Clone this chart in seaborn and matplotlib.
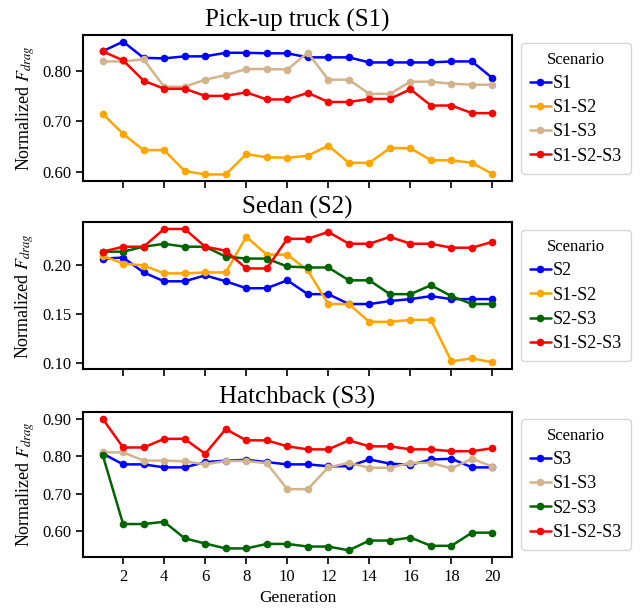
import numpy as np
import pandas as pd
import matplotlib
matplotlib.use("Agg")
import matplotlib.pyplot as plt
import seaborn as sns

# %%
### Values (normalized drag per generation)
generations = list(range(1, 21))

# Pick-up truck (S1)
truck_s1 = [0.838, 0.857, 0.825, 0.824, 0.828, 0.828, 0.835, 0.835, 0.834, 0.834,
            0.826, 0.826, 0.826, 0.816, 0.816, 0.816, 0.816, 0.818, 0.818, 0.785]
truck_s1_s2 = [0.715, 0.675, 0.643, 0.643, 0.602, 0.595, 0.595, 0.635, 0.629, 0.628,
               0.632, 0.652, 0.618, 0.618, 0.647, 0.647, 0.623, 0.623, 0.618, 0.596]
truck_s1_s3 = [0.818, 0.818, 0.822, 0.768, 0.768, 0.782, 0.791, 0.803, 0.803, 0.802,
               0.835, 0.782, 0.782, 0.754, 0.754, 0.778, 0.778, 0.774, 0.772, 0.772]
truck_s1_s2_s3 = [0.838, 0.820, 0.780, 0.764, 0.764, 0.750, 0.750, 0.757, 0.743, 0.743,
                  0.756, 0.738, 0.738, 0.744, 0.744, 0.763, 0.731, 0.731, 0.716, 0.716]

# Sedan (S2)
sedan_s2 = [0.206, 0.207, 0.192, 0.183, 0.183, 0.189, 0.183, 0.176, 0.176, 0.184,
            0.170, 0.170, 0.160, 0.160, 0.163, 0.165, 0.168, 0.165, 0.165, 0.165]
sedan_s1_s2 = [0.209, 0.201, 0.199, 0.191, 0.191, 0.192, 0.192, 0.228, 0.210, 0.210,
               0.194, 0.160, 0.160, 0.142, 0.142, 0.144, 0.144, 0.102, 0.105, 0.101]
sedan_s2_s3 = [0.213, 0.213, 0.218, 0.221, 0.218, 0.218, 0.208, 0.206, 0.206, 0.198,
               0.197, 0.197, 0.184, 0.184, 0.170, 0.170, 0.179, 0.168, 0.160, 0.160]
sedan_s1_s2_s3 = [0.213, 0.218, 0.218, 0.236, 0.236, 0.218, 0.214, 0.196, 0.196, 0.226,
                  0.226, 0.233, 0.221, 0.221, 0.228, 0.221, 0.221, 0.217, 0.217, 0.223]

# Hatchback (S3)
hatch_s3 = [0.807, 0.778, 0.778, 0.770, 0.770, 0.784, 0.788, 0.790, 0.784, 0.778,
            0.778, 0.773, 0.773, 0.791, 0.780, 0.777, 0.791, 0.793, 0.770, 0.770]
hatch_s1_s3 = [0.810, 0.810, 0.788, 0.788, 0.786, 0.778, 0.787, 0.787, 0.781, 0.712,
               0.712, 0.770, 0.782, 0.769, 0.769, 0.782, 0.782, 0.767, 0.793, 0.772]
hatch_s2_s3 = [0.804, 0.619, 0.619, 0.625, 0.581, 0.567, 0.554, 0.554, 0.566, 0.566,
               0.559, 0.559, 0.549, 0.575, 0.575, 0.583, 0.561, 0.561, 0.596, 0.596]
hatch_s1_s2_s3 = [0.900, 0.823, 0.823, 0.846, 0.846, 0.806, 0.872, 0.842, 0.842, 0.826,
                  0.818, 0.818, 0.842, 0.826, 0.826, 0.818, 0.818, 0.813, 0.813, 0.821]

panels = [
    ("Pick-up truck (S1)", {"S1": truck_s1, "S1-S2": truck_s1_s2,
                            "S1-S3": truck_s1_s3, "S1-S2-S3": truck_s1_s2_s3},
     [0.60, 0.70, 0.80]),
    ("Sedan (S2)", {"S2": sedan_s2, "S1-S2": sedan_s1_s2,
                    "S2-S3": sedan_s2_s3, "S1-S2-S3": sedan_s1_s2_s3},
     [0.10, 0.15, 0.20]),
    ("Hatchback (S3)", {"S3": hatch_s3, "S1-S3": hatch_s1_s3,
                        "S2-S3": hatch_s2_s3, "S1-S2-S3": hatch_s1_s2_s3},
     [0.60, 0.70, 0.80, 0.90]),
]

colors = {"S1": "blue", "S2": "blue", "S3": "blue",
          "S1-S2": "orange", "S1-S3": "tan", "S2-S3": "darkgreen",
          "S1-S2-S3": "red"}

# %%
sns.set_style("ticks")
plt.rcParams['font.family'] = ['Liberation Serif', 'DejaVu Serif']
plt.rcParams['mathtext.fontset'] = 'stix'
plt.rcParams['text.color'] = 'black'
plt.rcParams['axes.labelcolor'] = 'black'
plt.rcParams['xtick.color'] = 'black'
plt.rcParams['ytick.color'] = 'black'
plt.rcParams['axes.edgecolor'] = 'black'

fig = plt.figure(figsize=(6.44, 6.14), dpi=100)
boxes = [(0.129, 0.705, 0.666, 0.238),
         (0.129, 0.399, 0.666, 0.239),
         (0.129, 0.093, 0.666, 0.236)]

for i, (title, series, yticks) in enumerate(panels):
    ax = fig.add_axes(boxes[i])
    df = pd.concat([pd.DataFrame({"Generation": generations, "value": v, "Scenario": k})
                    for k, v in series.items()], ignore_index=True)
    sns.lineplot(data=df, x="Generation", y="value", hue="Scenario",
                 hue_order=list(series.keys()),
                 palette={k: colors[k] for k in series}, marker="o",
                 markersize=5.5, markeredgewidth=0, linewidth=1.8, ax=ax)
    ax.set_title(title, fontsize=18, pad=6)
    ax.set_ylabel("Normalized $F_{drag}$", fontsize=13)
    ax.set_xticks(range(2, 21, 2))
    ax.set_yticks(yticks)
    ax.yaxis.set_major_formatter(matplotlib.ticker.FormatStrFormatter('%.2f'))
    ax.tick_params(labelsize=12, width=1.2, length=5)
    for s in ax.spines.values():
        s.set_linewidth(1.5)
        s.set_visible(True)
    if i < 2:
        ax.set_xlabel("")
        ax.set_xticklabels([])
    else:
        ax.set_xlabel("Generation", fontsize=12.5)
    ax.legend(title="Scenario", loc="center left", bbox_to_anchor=(1.0, 0.5),
              fontsize=13, title_fontsize=12, handlelength=1.15,
              handletextpad=0.1, borderpad=0.5, labelspacing=0.4)

plt.savefig("out.png", dpi=100)
plt.close()
